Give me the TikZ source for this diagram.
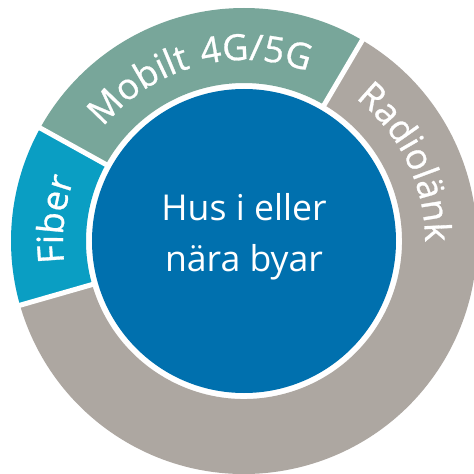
\documentclass[tikz,border=0pt]{standalone}
\usepackage{fontspec}
\setmainfont{Open Sans}
\newfontfamily\ringfamily{Open Sans}[LetterSpace=8, FakeBold=0.8]
\usetikzlibrary{decorations.text}

\definecolor{husblue}{HTML}{0070AE}
\definecolor{fibercol}{HTML}{0A9EC3}
\definecolor{mobilcol}{HTML}{78A69A}
\definecolor{radiocol}{HTML}{ADA7A1}

\newcommand{\ringfont}{\ringfamily\fontsize{36pt}{36pt}\selectfont}
\newcommand{\husfont}{\fontsize{35.6pt}{51pt}\selectfont}
\newcommand{\ringsector}[3]{\fill[#3] (#1:158) arc[start angle=#1, end angle=#2, radius=158] -- (#2:233) arc[start angle=#2, end angle=#1, radius=233] -- cycle;}

\tikzset{
	gapline/.style={white, line width=5pt},
	ringlabel/.style 2 args={decorate, decoration={text along path, text align=#1, text color=white, text={|\ringfont|#2}}}
}

\begin{document}
\begin{tikzpicture}[x=1pt,y=1pt]
	\clip (-244,-233) rectangle (230,241);
	\fill[white] (-244,-233) rectangle (230,241);
	\ringsector{151}{196}{fibercol}
	\ringsector{59.5}{151}{mobilcol}
	\ringsector{-164}{59.5}{radiocol}
	\draw[gapline] (59.5:150) -- (59.5:240);
	\draw[gapline] (151:150) -- (151:240);
	\draw[gapline] (196:150) -- (196:240);
	\fill[husblue] (0,0) circle[radius=152];
	\node[font=\husfont, text=white, align=center, inner sep=0pt] (hus) at (0,4) {Hus i eller\\nära byar};
	\path[ringlabel={center}{Mobilt 4G/5G}] (151:181) arc[start angle=151, end angle=59.5, radius=181];
	\path[ringlabel={center}{Fiber}] (196:181) arc[start angle=196, end angle=151, radius=181];
	\path[ringlabel={left}{Radiolänk}] (52:181) arc[start angle=52, end angle=-10, radius=181];
\end{tikzpicture}
\end{document}
